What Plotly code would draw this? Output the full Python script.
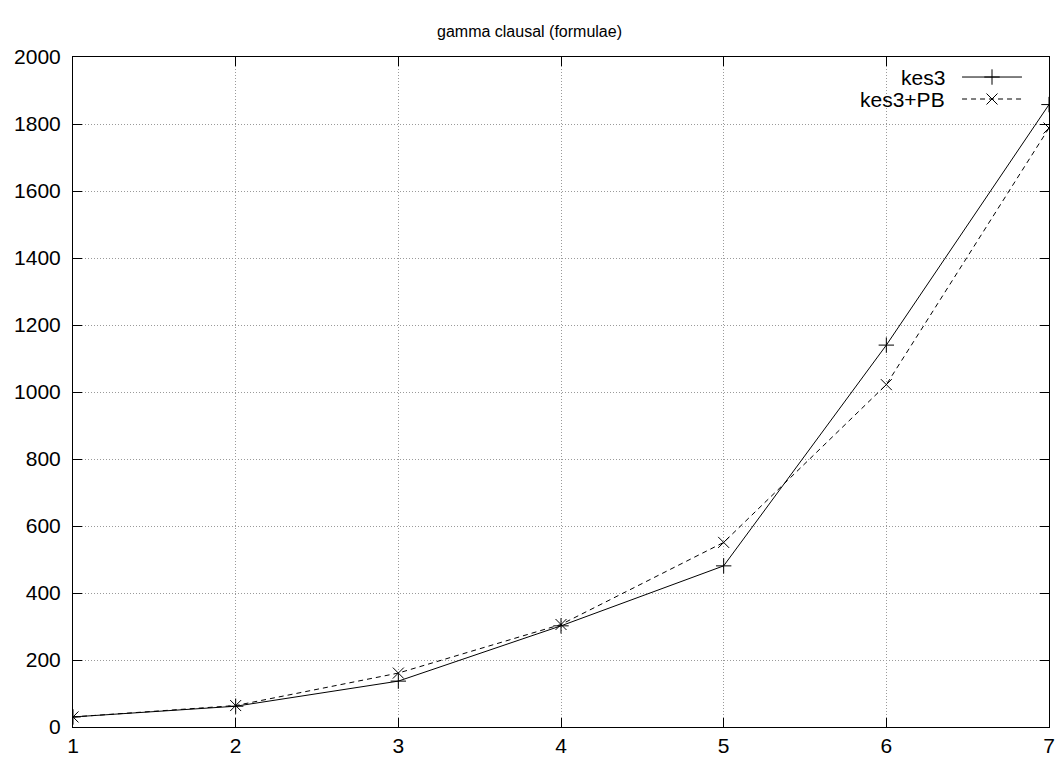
import plotly.graph_objects as go

x_vals = [1, 2, 3, 4, 5, 6, 7]
kes3 = [30, 62, 137, 302, 481, 1140, 1858]
kes3_pb = [30, 64, 161, 306, 551, 1022, 1788]
series_names = ["kes3", "kes3+PB"]
y_ticks = [0, 200, 400, 600, 800, 1000, 1200, 1400, 1600, 1800, 2000]

FONT = "Liberation Sans, Arial, Helvetica, sans-serif"

fig = go.Figure()
fig.add_trace(go.Scatter(
    x=x_vals, y=kes3, mode="lines+markers", name=series_names[0],
    line=dict(color="black", width=1),
    marker=dict(symbol="cross-thin-open", size=11, line=dict(color="black", width=1), color="black"),
    showlegend=False))
fig.add_trace(go.Scatter(
    x=x_vals, y=kes3_pb, mode="lines+markers", name=series_names[1],
    line=dict(color="black", width=1, dash="5px,4px"),
    marker=dict(symbol="x-thin-open", size=11, line=dict(color="black", width=1), color="black"),
    showlegend=False))

# custom legend (gnuplot style: label, then sample) on an overlay axis in [0,1]
leg_y = [0.9701, 0.9373]
for i, (nm, sym, dash) in enumerate([(series_names[0], "cross-thin-open", "solid"),
                                     (series_names[1], "x-thin-open", "5px,4px")]):
    fig.add_trace(go.Scatter(
        x=[0.9109, 0.9416, 0.9723], y=[leg_y[i]] * 3, xaxis="x2", yaxis="y2",
        mode="lines", line=dict(color="black", width=1, dash=dash),
        showlegend=False, hoverinfo="skip"))
    fig.add_trace(go.Scatter(
        x=[0.9416], y=[leg_y[i]], xaxis="x2", yaxis="y2", mode="markers",
        marker=dict(symbol=sym, size=11, line=dict(color="black", width=1), color="black"),
        showlegend=False, hoverinfo="skip"))
    fig.add_annotation(x=0.8955, y=leg_y[i], xref="x2", yref="y2", text=nm,
                       showarrow=False, xanchor="right", yanchor="middle",
                       font=dict(family=FONT, size=21, color="black"))

axis_common = dict(
    showline=True, linecolor="black", linewidth=1, mirror="allticks",
    ticks="inside", ticklen=9, tickcolor="black", tickwidth=1,
    showgrid=True, gridcolor="#9a9a9a", griddash="1px,2px", gridwidth=1,
    zeroline=False, tickfont=dict(family=FONT, size=21, color="black"),
    automargin=False,
)

fig.update_layout(
    width=1059, height=760,
    margin=dict(l=73, r=10, t=57, b=33),
    paper_bgcolor="white", plot_bgcolor="white",
    title=dict(text="gamma clausal (formulae)", x=0.5, xanchor="center",
               y=1 - 31 / 760, yanchor="middle",
               font=dict(family=FONT, size=16, color="black")),
    xaxis=dict(range=[1, 7], tickvals=x_vals, ticktext=[str(v) for v in x_vals], **axis_common),
    yaxis=dict(range=[0, 2000], tickvals=y_ticks, ticklabelstandoff=7, **axis_common),
    xaxis2=dict(range=[0, 1], overlaying="x", visible=False, fixedrange=True),
    yaxis2=dict(range=[0, 1], overlaying="y", visible=False, fixedrange=True),
    showlegend=False,
)

fig.write_html("out.html")
